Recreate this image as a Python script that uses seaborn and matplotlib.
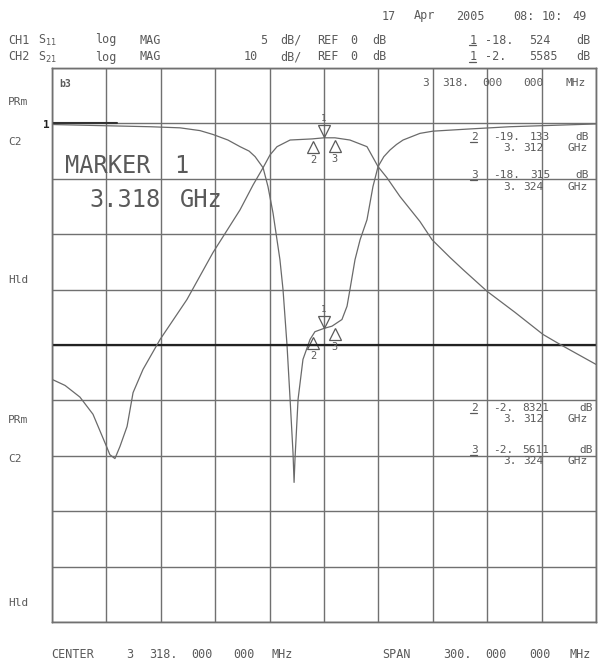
import numpy as np
import pandas as pd
import seaborn as sns
import matplotlib.pyplot as plt
from matplotlib.lines import Line2D
from matplotlib.transforms import offset_copy

# ---- data ----
# CH1 S11, log MAG, 5 dB/div, REF 0 dB
s11_freq = [3.1680, 3.1945, 3.2220, 3.2386, 3.2496, 3.2568, 3.2650, 3.2717, 3.2767,
            3.2800, 3.2844, 3.2871, 3.2899, 3.2937, 3.2954, 3.2976, 3.2993, 3.3009,
            3.3015, 3.3020, 3.3037, 3.3064, 3.3103, 3.3130, 3.3180, 3.3224, 3.3279,
            3.3307, 3.3323, 3.3351, 3.3379, 3.3417, 3.3450, 3.3478, 3.3510, 3.3544,
            3.3580, 3.3616, 3.3709, 3.3781, 3.3985, 3.4206, 3.4680]
s11_db = [-0.1, -0.2, -0.3, -0.4, -0.65, -1.0, -1.5, -2.1, -2.5,
          -3.0, -4.0, -5.7, -8.1, -12.3, -15.0, -20.0, -24.9, -29.7,
          -32.4, -30.3, -24.9, -21.3, -19.5, -18.8, -18.5, -18.3, -17.7,
          -16.5, -15.0, -12.3, -10.5, -8.7, -5.7, -3.9, -3.0, -2.4,
          -1.9, -1.5, -0.9, -0.7, -0.5, -0.3, -0.05]

# CH2 S21, log MAG, 10 dB/div, REF 0 dB
s21_freq = [3.1680, 3.1752, 3.1834, 3.1906, 3.1983, 3.1999, 3.2027, 3.2055, 3.2094,
            3.2127, 3.2182, 3.2276, 3.2424, 3.2568, 3.2717, 3.2789, 3.2844, 3.2882,
            3.2921, 3.2993, 3.3114, 3.3180, 3.3240, 3.3323, 3.3417, 3.3478, 3.3527,
            3.3599, 3.3709, 3.3776, 3.3875, 3.3947, 3.4079, 3.4233, 3.4388, 3.4482,
            3.4680]
s21_db = [-46.2, -47.3, -49.4, -52.5, -58.5, -59.8, -60.5, -58.3, -54.7,
          -48.6, -44.4, -39.0, -31.8, -23.3, -15.6, -11.1, -8.0, -5.7,
          -4.2, -3.0, -2.8, -2.6, -2.6, -3.0, -4.2, -7.8, -9.8,
          -13.2, -17.7, -21.0, -24.2, -26.4, -30.3, -34.1, -38.1, -39.9,
          -43.5]

# markers 1, 2, 3
mk_labels = ["1", "2", "3"]
mk_freq = [3.318, 3.312, 3.324]
mk_s11 = [-18.524, -19.133, -18.315]
mk_s21 = [-2.5585, -2.8321, -2.5611]

center = 3.318
span = 0.300

sns.set_theme(style="white")
plt.rcParams["font.family"] = ["DejaVu Sans Mono", "DejaVu Sans"]

W, H = 598, 667
fig = plt.figure(figsize=(W / 100, H / 100), dpi=100)
ax = fig.add_axes([52 / W, 1 - 622 / H, 544 / W, 554 / H])
ax2 = ax.twinx()

gc = "#707070"
tc = "#5a5a5a"
trace_c = "#6a6a6a"

df11 = pd.DataFrame({"freq": s11_freq, "db": s11_db})
df21 = pd.DataFrame({"freq": s21_freq, "db": s21_db})
sns.lineplot(data=df11, x="freq", y="db", ax=ax, color=trace_c, lw=0.9, sort=False)
sns.lineplot(data=df21, x="freq", y="db", ax=ax2, color=trace_c, lw=0.9, sort=False)

x0, x1 = center - span / 2, center + span / 2
ax.set_xlim(x0, x1)
ax.set_ylim(-45, 5)
ax2.set_ylim(-90, 10)
ax.set_xticks(np.linspace(x0, x1, 11))
ax.set_yticks(np.arange(-45, 6, 5))
ax.grid(True, color=gc, lw=1.0)
ax.axhline(-20, color="#222222", lw=1.6, zorder=3)
ax.axhline(0, xmin=0, xmax=0.12, color="#333333", lw=1.5, zorder=3)
for a in (ax, ax2):
    a.tick_params(left=False, right=False, bottom=False, labelleft=False,
                  labelright=False, labelbottom=False)
    a.set_xlabel("")
    a.set_ylabel("")
    for s in a.spines.values():
        s.set_color(gc)
        s.set_linewidth(1.0)

# marker symbols
def marks(a, vals):
    up = offset_copy(a.transData, fig=fig, y=7, units="dots")
    up_t = offset_copy(a.transData, fig=fig, y=19, units="dots")
    dn = offset_copy(a.transData, fig=fig, y=-8, units="dots")
    dn_t = offset_copy(a.transData, fig=fig, y=-21, units="dots")
    a.plot(mk_freq[0], vals[0], marker="v", ms=8, mfc="none", mec=tc, mew=0.9,
           transform=up, ls="none")
    a.text(mk_freq[0], vals[0], mk_labels[0], transform=up_t, ha="center",
           va="center", fontsize=6.5, color=tc)
    for lab, f, v in zip(mk_labels[1:], mk_freq[1:], vals[1:]):
        a.plot(f, v, marker="^", ms=8, mfc="none", mec=tc, mew=0.9,
               transform=dn, ls="none")
        a.text(f, v, lab, transform=dn_t, ha="center", va="center",
               fontsize=7.5, color=tc)

marks(ax, mk_s11)
marks(ax2, mk_s21)

def t(x, y, s, **kw):
    kw.setdefault("fontsize", 8)
    kw.setdefault("color", tc)
    kw.setdefault("va", "center")
    fig.text(x / W, 1 - y / H, s, **kw)

def row(y, parts, **kw):
    for x, s in parts:
        t(x, y, s, **kw)

def uline(x, y, w=7):
    fig.add_artist(Line2D([x / W, (x + w) / W], [1 - y / H, 1 - y / H],
                          color=tc, lw=0.9))

# header
row(16, [(382, "17"), (414, "Apr"), (456, "2005"), (513, "08:"), (542, "10:"),
         (572, "49")], fontsize=8.5)
row(40, [(8, "CH1"), (38, r"S$_{11}$"), (95, "log"), (140, "MAG"), (260, "5"),
         (280, "dB/"), (317, "REF"), (350, "0"), (372, "dB"), (470, "1"),
         (485, "-18."), (529, "524"), (576, "dB")], fontsize=8.5)
row(57, [(8, "CH2"), (38, r"S$_{21}$"), (95, "log"), (140, "MAG"), (244, "10"),
         (280, "dB/"), (317, "REF"), (350, "0"), (372, "dB"), (470, "1"),
         (485, "-2."), (529, "5585"), (576, "dB")], fontsize=8.5)
uline(469, 45)
uline(469, 62)

# left annotations
for y, s in [(102, "PRm"), (142, "C2"), (280, "Hld"),
             (420, "PRm"), (459, "C2"), (603, "Hld")]:
    t(8, y, s)
t(50, 125, "1", ha="right", fontsize=8, fontweight="bold", color="#222222")
t(59, 84, "b3", fontsize=7, fontweight="bold")

# in-grid annotations
row(166, [(65, "MARKER"), (174, "1")], fontsize=17)
row(200, [(89, "3.318"), (180, "GHz")], fontsize=17)
row(83, [(422, "3"), (442, "318."), (482, "000"), (523, "000"), (565, "MHz")])
row(137, [(471, "2"), (493, "-19."), (530, "133"), (575, "dB")])
row(148, [(503, "3."), (523, "312"), (567, "GHz")])
row(175, [(471, "3"), (493, "-18."), (530, "315"), (575, "dB")])
row(187, [(503, "3."), (523, "324"), (567, "GHz")])
row(408, [(471, "2"), (493, "-2."), (522, "8321"), (579, "dB")])
row(419, [(503, "3."), (523, "312"), (567, "GHz")])
row(450, [(471, "3"), (493, "-2."), (522, "5611"), (579, "dB")])
row(461, [(503, "3."), (523, "324"), (567, "GHz")])
for y in (142, 180, 413, 455):
    uline(470, y)

# footer
row(655, [(51, "CENTER"), (126, "3"), (149, "318."), (191, "000"), (233, "000"),
          (271, "MHz"), (382, "SPAN"), (443, "300."), (485, "000"), (529, "000"),
          (569, "MHz")], fontsize=8.5)

fig.savefig("out.png", dpi=100, facecolor="white")
